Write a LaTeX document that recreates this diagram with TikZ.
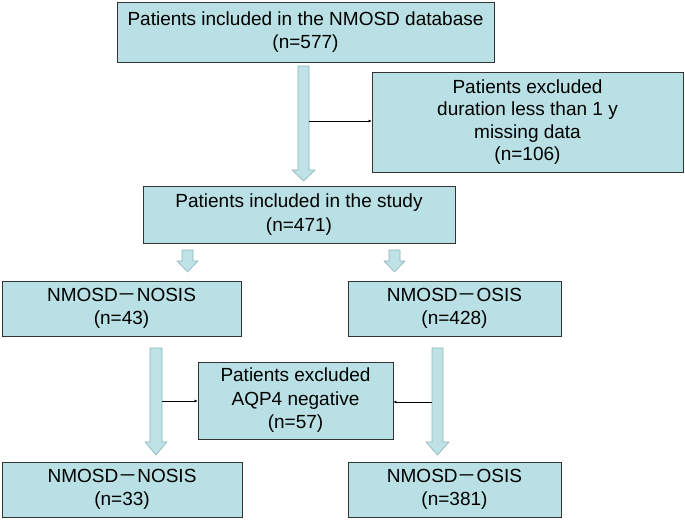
\documentclass[tikz,border=0pt]{standalone}
\usepackage{fontspec}
\usetikzlibrary{arrows.meta}
\setmainfont{Liberation Sans}
\newfontfamily\cjk{Noto Sans CJK SC}
\definecolor{boxfill}{RGB}{185,224,228}
\definecolor{arrowfill}{RGB}{190,226,230}
\definecolor{arrowline}{RGB}{140,180,186}
\newcommand{\fw}{{\cjk －}}
\begin{document}
\begin{tikzpicture}[x=1pt,y=-1pt,
  box/.style={draw=black!80,line width=0.8pt,fill=boxfill,inner sep=0pt,align=center,font=\fontsize{19}{23.5}\selectfont},
  conn/.style={draw=black,line width=0.8pt,-{Latex[length=3pt,width=3pt]}},
  bigarrow/.style={fill=arrowfill,draw=arrowline,line width=0.6pt}]
\useasboundingbox (0,0) rectangle (685,520);
% boxes
\node[box,minimum width=377pt,minimum height=60pt] (b1) at (305.5,32) {Patients included in the NMOSD database\\(n=577)};
\node[box,minimum width=311pt,minimum height=100pt,font=\fontsize{19}{22.5}\selectfont] (b2) at (527.5,122) {Patients excluded\\duration less than 1 y\\missing data\\(n=106)};
\node[box,minimum width=312pt,minimum height=57pt] (b3) at (299,214.5) {Patients included in the study\\(n=471)};
\node[box,minimum width=239pt,minimum height=55pt] (b4) at (121.5,308.5) {NMOSD\fw NOSIS\\(n=43)};
\node[box,minimum width=213pt,minimum height=55pt] (b5) at (454.5,308.5) {NMOSD\fw OSIS\\(n=428)};
\node[box,minimum width=195pt,minimum height=77pt] (b6) at (295.5,400.5) {Patients excluded\\AQP4 negative\\(n=57)};
\node[box,minimum width=240pt,minimum height=55pt] (b7) at (122,489.5) {NMOSD\fw NOSIS\\(n=33)};
\node[box,minimum width=213pt,minimum height=55pt] (b8) at (454.5,489.5) {NMOSD\fw OSIS\\(n=381)};
% big arrows
\draw[bigarrow] (298,66) -- (309,66) -- (309,170) -- (315,170) -- (303.5,181) -- (292,170) -- (298,170) -- cycle;
\draw[bigarrow] (150,348) -- (162,348) -- (162,442) -- (167,442) -- (156,455) -- (145,442) -- (150,442) -- cycle;
\draw[bigarrow] (432,348) -- (443,348) -- (443,442) -- (449,442) -- (437.5,455) -- (426,442) -- (432,442) -- cycle;
% small arrows
\draw[bigarrow] (182,250) -- (193,250) -- (193,261) -- (198,261) -- (187.5,272) -- (177,261) -- (182,261) -- cycle;
\draw[bigarrow] (389,250) -- (400,250) -- (400,261) -- (405,261) -- (394.5,272) -- (384,261) -- (389,261) -- cycle;
% connectors
\coordinate (c1) at (309,121);
\coordinate (c2) at (162,401);
\coordinate (c3) at (432,402);
\draw[conn] (c1) -- (b2.west |- c1);
\draw[conn] (c2) -- (b6.west |- c2);
\draw[conn] (c3) -- (b6.east |- c3);
\end{tikzpicture}
\end{document}
